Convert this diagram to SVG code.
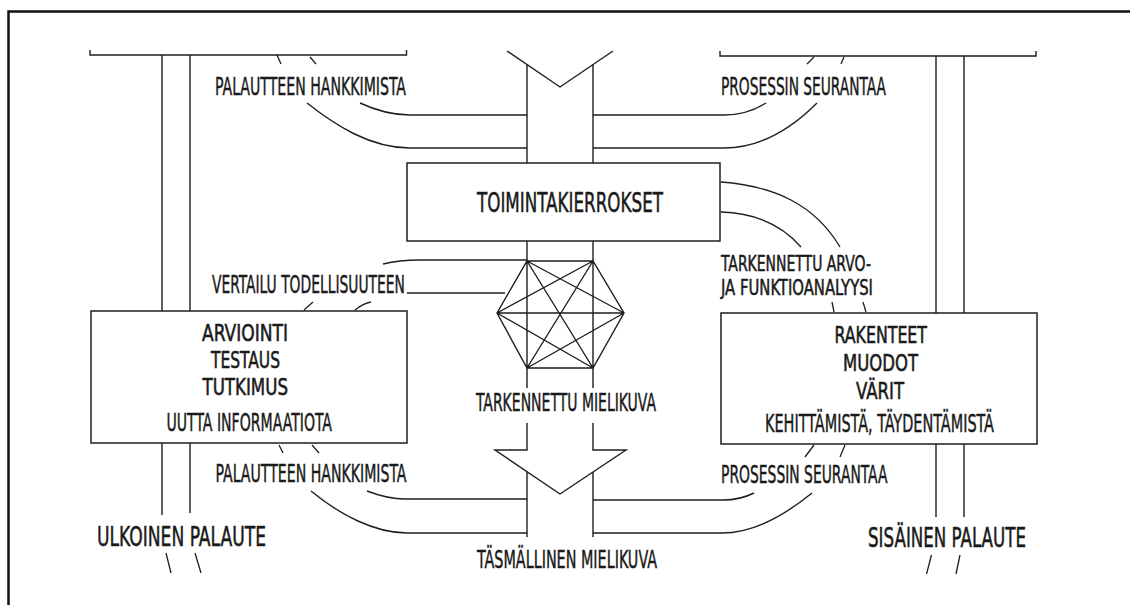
<svg xmlns="http://www.w3.org/2000/svg" width="1130" height="605" viewBox="0 0 1130 605">
<style>
.ln{fill:none;stroke:#1e1e1e;stroke-width:1.4;stroke-linecap:butt}
.tk{fill:none;stroke:#1e1e1e;stroke-width:1.3}
.bx{fill:#fff;stroke:#1e1e1e;stroke-width:1.5}
.t,.tb,.ts,.tm{font-family:"DejaVu Sans Condensed","DejaVu Sans","Liberation Sans",sans-serif;fill:#1a1a1a;stroke:#1a1a1a;stroke-width:0.45}
.t{font-size:24.5px}
.tb{font-size:26.5px;stroke-width:0.5}
.tm{font-size:23px;stroke-width:0.55}
.ts{font-size:20.5px;stroke-width:0.5}
</style>
<rect width="1130" height="605" fill="#fff"/>
<g id="frame">
<path d="M8.5,605 V11.5 H1130" fill="none" stroke="#111" stroke-width="2.5"/>
</g>
<g id="connectors">
<path class="ln" d="M90,50 V55 H406.5 V50"/>
<path class="ln" d="M720,51 V56 H1036 V51"/>
<path class="ln" d="M162,55 V311 M190,55 V311 M162,443 V515 M190,443 V513"/>
<path class="ln" d="M936,56 V313 M964,56 V313 M936,444 V517 M964,444 V517"/>
<path class="ln" d="M507,51 L560,87 L613,51 M527,64.5 V163 M593,64.5 V163"/>
<path class="ln" d="M527,241 V261 M593,241 V261"/>
<path class="ln" d="M527,368 V388 M593,368 V388"/>
<path class="ln" d="M527,423 V450 H495 L560,494 L626,450 H593 V423"/>
<path class="ln" d="M527,472 V537 M593,472 V537"/>
<path class="ln" d="M360,103 C375,110 390,115 410,115 L527,115"/>
<path class="ln" d="M307,103 C335,125 370,148 410,148 L527,148"/>
<path class="ln" d="M593,115 L724,115 C742,115 755,110 766,103"/>
<path class="ln" d="M593,148 L724,148 C760,148 790,130 817,103"/>
<path class="ln" d="M367,491 C380,496 392,499 405,499 L527,499"/>
<path class="ln" d="M311,491 C340,515 375,533 407,533 L527,533"/>
<path class="ln" d="M593,500 L723,500 C738,500 746,497 754,493"/>
<path class="ln" d="M593,533 L722,533 C755,533 785,515 812,493"/>
<path class="ln" d="M721,182 C775,186 815,205 840,247"/>
<path class="ln" d="M721,212 C755,213 782,225 801,247"/>
<path class="ln" d="M383,264 C395,261 405,260 420,260 L527,260"/>
<path class="ln" d="M407,293 L505,293"/>
<path class="tk" d="M277,55 L281,64 M310,57 L316,64"/>
<path class="tk" d="M807,64 L814,57 M841,64 L844,57"/>
<path class="tk" d="M304,310 L313,302 M355,310 C360,306 365,303 371,302"/>
<path class="tk" d="M832,302 L834,312 M863,302 L866,312"/>
<path class="tk" d="M279,445 L283,453 M312,445 L319,453"/>
<path class="tk" d="M805,457 L814,445 M840,457 L845,445"/>
<path class="tk" d="M166,553 L171,573 M195,553 L201,573"/>
<path class="tk" d="M926.5,574 L931.5,555 M956,574 L960,555"/>
</g>
<g id="hexagon">
<path class="ln" d="M497,313 L527,261 L593,261 L624,313 L593,368 L527,368 Z M497,313 H624 M527,261 V368 M593,261 V368 M527,261 L593,368 M593,261 L527,368 M497,313 L593,261 M497,313 L593,368 M624,313 L527,261 M624,313 L527,368"/>
</g>
<g id="toimintakierrokset">
<rect class="bx" x="407" y="163" width="313" height="78"/>
<text class="tb" x="477" y="212" textLength="186" lengthAdjust="spacingAndGlyphs">TOIMINTAKIERROKSET</text>
</g>
<g id="arviointi">
<rect class="bx" x="91" y="311" width="316" height="132"/>
<text class="tm" x="202" y="341" textLength="86" lengthAdjust="spacingAndGlyphs">ARVIOINTI</text>
<text class="tm" x="211" y="368" textLength="69" lengthAdjust="spacingAndGlyphs">TESTAUS</text>
<text class="tm" x="202.5" y="395" textLength="85.5" lengthAdjust="spacingAndGlyphs">TUTKIMUS</text>
<text class="t" x="166.5" y="431" textLength="165.5" lengthAdjust="spacingAndGlyphs">UUTTA INFORMAATIOTA</text>
</g>
<g id="rakenteet">
<rect class="bx" x="721" y="313" width="316" height="131"/>
<text class="tm" x="834.5" y="343" textLength="92.5" lengthAdjust="spacingAndGlyphs">RAKENTEET</text>
<text class="tm" x="843" y="371" textLength="75" lengthAdjust="spacingAndGlyphs">MUODOT</text>
<text class="tm" x="856" y="399" textLength="48" lengthAdjust="spacingAndGlyphs">VÄRIT</text>
<text class="t" x="765" y="432" textLength="229" lengthAdjust="spacingAndGlyphs">KEHITTÄMISTÄ, TÄYDENTÄMISTÄ</text>
</g>
<g id="labels">
<text class="t" x="215" y="95" textLength="191" lengthAdjust="spacingAndGlyphs">PALAUTTEEN HANKKIMISTA</text>
<text class="t" x="721" y="95" textLength="165" lengthAdjust="spacingAndGlyphs">PROSESSIN SEURANTAA</text>
<text class="t" x="212" y="293" textLength="193" lengthAdjust="spacingAndGlyphs">VERTAILU TODELLISUUTEEN</text>
<text class="ts" x="721" y="271" textLength="150" lengthAdjust="spacingAndGlyphs">TARKENNETTU ARVO-</text>
<text class="ts" x="721" y="295" textLength="152" lengthAdjust="spacingAndGlyphs">JA FUNKTIOANALYYSI</text>
<text class="t" x="476" y="411" textLength="180" lengthAdjust="spacingAndGlyphs">TARKENNETTU MIELIKUVA</text>
<text class="t" x="215.5" y="482" textLength="191" lengthAdjust="spacingAndGlyphs">PALAUTTEEN HANKKIMISTA</text>
<text class="t" x="721" y="483" textLength="166.5" lengthAdjust="spacingAndGlyphs">PROSESSIN SEURANTAA</text>
<text class="tb" x="97" y="546" textLength="169" lengthAdjust="spacingAndGlyphs">ULKOINEN PALAUTE</text>
<text class="tb" x="868" y="547" textLength="158" lengthAdjust="spacingAndGlyphs">SISÄINEN PALAUTE</text>
<text class="t" x="477" y="568" textLength="180" lengthAdjust="spacingAndGlyphs">TÄSMÄLLINEN MIELIKUVA</text>
</g>
</svg>
